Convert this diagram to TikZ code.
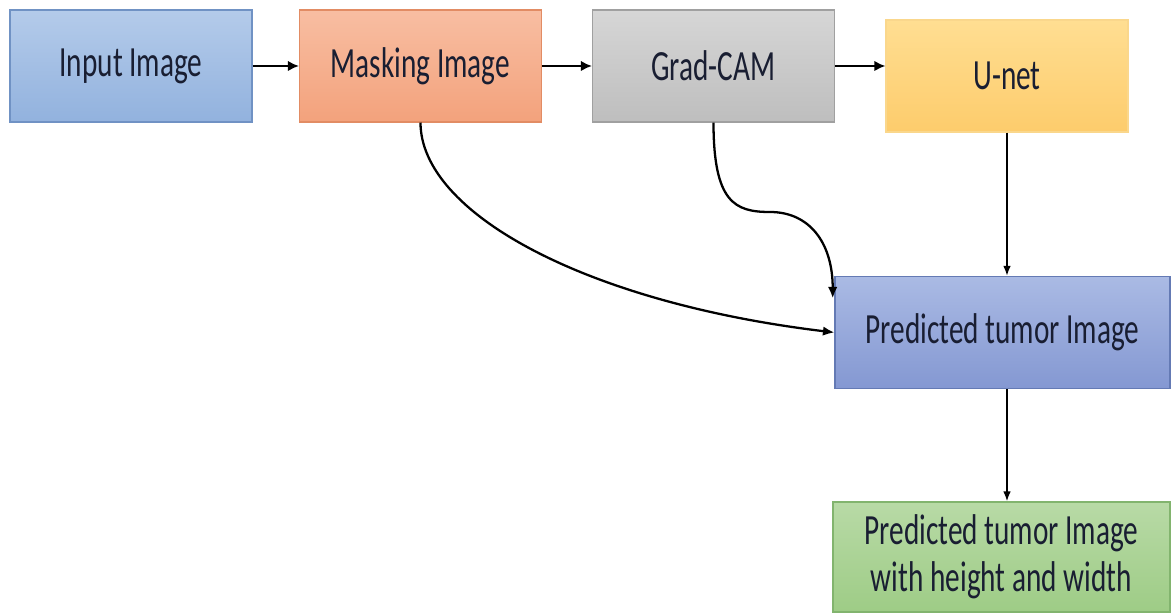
\documentclass[tikz,border=0pt]{standalone}
\usepackage{fontspec}
\setmainfont{Carlito}[FakeStretch=0.68]
\usetikzlibrary{shapes,arrows.meta}

\definecolor{inTop}{RGB}{180,203,234}
\definecolor{inBot}{RGB}{146,178,222}
\definecolor{inDraw}{RGB}{112,146,196}
\definecolor{maskTop}{RGB}{248,190,162}
\definecolor{maskBot}{RGB}{243,162,124}
\definecolor{maskDraw}{RGB}{226,140,100}
\definecolor{gradTop}{RGB}{214,214,214}
\definecolor{gradBot}{RGB}{190,190,190}
\definecolor{gradDraw}{RGB}{160,160,160}
\definecolor{unetTop}{RGB}{255,222,146}
\definecolor{unetBot}{RGB}{253,204,108}
\definecolor{unetDraw}{RGB}{250,215,140}
\definecolor{predTop}{RGB}{170,186,228}
\definecolor{predBot}{RGB}{132,152,210}
\definecolor{predDraw}{RGB}{100,122,180}
\definecolor{finTop}{RGB}{184,218,166}
\definecolor{finBot}{RGB}{158,204,134}
\definecolor{finDraw}{RGB}{130,180,110}
\definecolor{txt}{RGB}{25,30,50}

\begin{document}
\begin{tikzpicture}[auto]
    \tikzstyle{block} = [rectangle, draw, line width=0.6pt, text=txt, align=center, minimum width=4.84cm, minimum height=2.24cm, font=\fontsize{24.5}{27}\selectfont]
    \tikzstyle{line} = [draw, -{Latex[length=2.2mm,width=2.1mm]}, line width=1.6pt]
    \tikzstyle{vline} = [draw, -{Latex[length=2mm,width=1.5mm]}, line width=0.9pt]
    \tikzstyle{cline} = [draw, -{Latex[length=2.3mm,width=1.9mm]}, line width=1.3pt]

    \useasboundingbox (0,0) rectangle (23.46,-12.28);

    \node [block, top color=inTop, bottom color=inBot, draw=inDraw] (input) at (2.62,-1.32) {Input Image};
    \node [block, top color=maskTop, bottom color=maskBot, draw=maskDraw] (mask) at (8.41,-1.32) {Masking Image};
    \node [block, top color=gradTop, bottom color=gradBot, draw=gradDraw] (gradcam) at (14.27,-1.32) {Grad-CAM};
    \node [block, top color=unetTop, bottom color=unetBot, draw=unetDraw] (unet) at (20.14,-1.52) {U-net};
    \node [block, top color=predTop, bottom color=predBot, draw=predDraw, minimum width=6.7cm] (pred) at (20.05,-6.65) {Predicted tumor Image};
    \node [block, top color=finTop, bottom color=finBot, draw=finDraw, minimum width=6.74cm, minimum height=2.2cm] (final) at (20.03,-11.14) {Predicted tumor Image\\with height and width};

    \coordinate (gbend) at (15.4,-4.24);

    \path [line] (input) -- (mask);
    \path [line] (mask) -- (gradcam);
    \path [line] (gradcam.east) -- (gradcam.east -| unet.west);
    \path [vline] (unet.south) -- (unet.south |- pred.north);
    \path [vline] (pred.south -| unet) -- (final.north -| unet);
    \path [cline] (mask.south) .. controls +(0,-1.8) and +(-5,0.6) .. (pred.west);
    \path [cline] (gradcam.south) .. controls +(0,-1.6) and +(-0.7,0) .. (gbend) .. controls +(0.8,0) and +(0,1.1) .. ([xshift=-1pt,yshift=-0.45cm]pred.north west);
\end{tikzpicture}
\end{document}
